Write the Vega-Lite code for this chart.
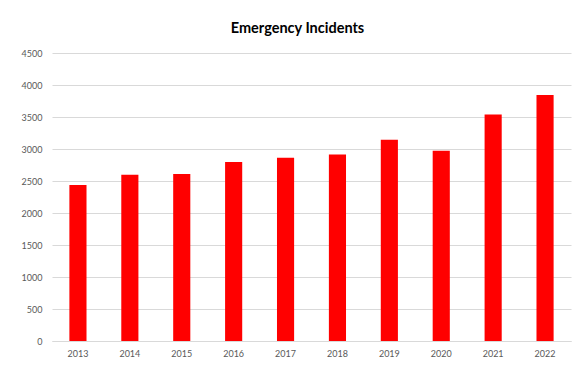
{
  "$schema": "https://vega.github.io/schema/vega-lite/v6.json",
  "autosize": "none",
  "width": 519,
  "height": 288,
  "padding": {"left": 52, "top": 53, "right": 13, "bottom": 25},
  "background": "white",
  "title": {
    "text": "Emergency Incidents",
    "font": "Lato",
    "fontSize": 14.5,
    "fontWeight": "bold",
    "color": "#000000",
    "anchor": "middle",
    "dx": -14,
    "baseline": "alphabetic",
    "offset": 2
  },
  "data": {
    "values": [
      {"year": "2013", "incidents": 2437},
      {"year": "2014", "incidents": 2598},
      {"year": "2015", "incidents": 2609},
      {"year": "2016", "incidents": 2797},
      {"year": "2017", "incidents": 2864},
      {"year": "2018", "incidents": 2916},
      {"year": "2019", "incidents": 3145},
      {"year": "2020", "incidents": 2973},
      {"year": "2021", "incidents": 3541},
      {"year": "2022", "incidents": 3844}
    ]
  },
  "mark": {"type": "bar", "color": "#ff0000"},
  "encoding": {
    "x": {
      "field": "year",
      "type": "ordinal",
      "scale": {"paddingInner": 0.67, "paddingOuter": 0.335},
      "axis": {
        "title": null,
        "labelAngle": 0,
        "ticks": false,
        "domain": true,
        "domainColor": "#d9d9d9",
        "labelFont": "Lato",
        "labelFontSize": 9,
        "labelColor": "#595959",
        "labelPadding": 8
      }
    },
    "y": {
      "field": "incidents",
      "type": "quantitative",
      "scale": {"domain": [0, 4500], "nice": false},
      "axis": {
        "title": null,
        "values": [0, 500, 1000, 1500, 2000, 2500, 3000, 3500, 4000, 4500],
        "format": "d",
        "ticks": false,
        "domain": false,
        "gridColor": "#d9d9d9",
        "gridWidth": 1,
        "labelFont": "Lato",
        "labelFontSize": 9,
        "labelColor": "#595959",
        "labelPadding": 10
      }
    }
  },
  "config": {
    "view": {"stroke": null}
  }
}
